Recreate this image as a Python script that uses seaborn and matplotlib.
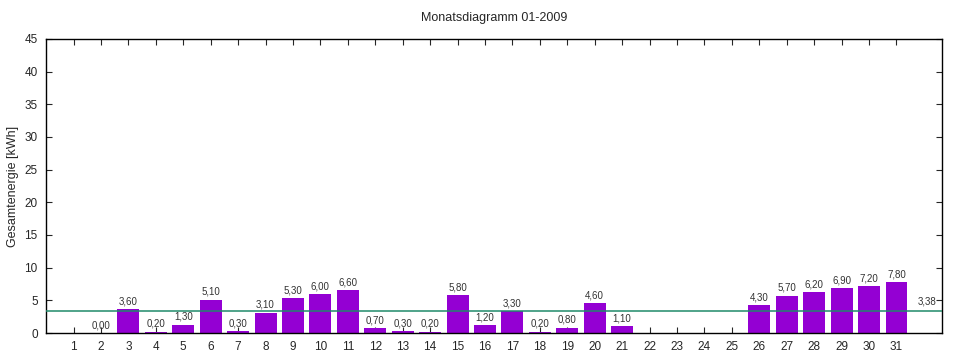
import matplotlib
matplotlib.use("Agg")
import matplotlib.pyplot as plt
import seaborn as sns
import pandas as pd

# Daily energy for January 2009 (days without data are left out)
days = [2, 3, 4, 5, 6, 7, 8, 9, 10, 11, 12, 13, 14, 15, 16, 17, 18, 19, 20, 21,
        26, 27, 28, 29, 30, 31]
energy = [0.0, 3.6, 0.2, 1.3, 5.1, 0.3, 3.1, 5.3, 6.0, 6.6, 0.7, 0.3, 0.2, 5.8, 1.2,
          3.3, 0.2, 0.8, 4.6, 1.1,
          4.3, 5.7, 6.2, 6.9, 7.2, 7.8]
all_days = list(range(1, 32))

df = pd.DataFrame({"day": days, "kwh": energy})
avg = df["kwh"].mean()

def de(v):
    return f"{v:.2f}".replace(".", ",")

sns.set_style("ticks")
plt.rcParams["font.family"] = ["Liberation Sans", "DejaVu Sans"]

fig = plt.figure(figsize=(9.6, 3.6), dpi=100)
ax = fig.add_axes([0.048, 0.075, 0.933, 0.817])

sns.barplot(data=df, x="day", y="kwh", native_scale=True, color="#9400D3",
            saturation=1, width=0.8, linewidth=0, ax=ax)

# value labels
ax.bar_label(ax.containers[0], labels=[de(v) for v in energy], padding=2,
             fontsize=7, color="#333333")

# average line with its label
ax.axhline(avg, color="#1f8a6a", lw=1.1, zorder=3)
ax.text(32.1, avg + 0.7, de(avg), fontsize=7, color="#333333", ha="center", va="bottom")

ax.set_xlim(0, 32.65)
ax.set_ylim(0, 45)
ax.set_xticks(all_days)
ax.set_xticklabels([str(d) for d in all_days])
ax.set_yticks(range(0, 46, 5))
ax.tick_params(direction="in", top=True, right=True, length=4, width=0.8,
               labelsize=8.5, pad=6)
for s in ax.spines.values():
    s.set_linewidth(1)
    s.set_color("black")

ax.set_xlabel("")
ax.set_ylabel("Gesamtenergie [kWh]", fontsize=9, labelpad=4)
ax.set_title("Monatsdiagramm 01-2009", fontsize=9, pad=13)

fig.savefig("out.png", dpi=100)
